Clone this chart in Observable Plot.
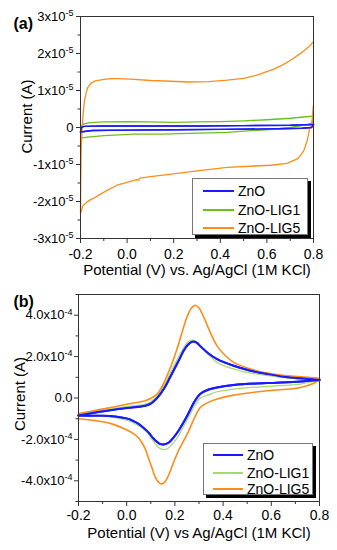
<!DOCTYPE html>
<html><head><meta charset="utf-8">
<script src="https://cdn.jsdelivr.net/npm/d3@7"></script>
<script src="https://cdn.jsdelivr.net/npm/@observablehq/plot@0.6"></script>
<style>
body{margin:0;background:#fff;}
#wrap{position:relative;width:337px;height:550px;overflow:hidden;font-family:"Liberation Sans",Arial,sans-serif;}
.panel{position:absolute;left:0;}
.legend{position:absolute;background:#fff;border:1px solid #777;box-shadow:3px 3px 0 #000;font-size:14px;color:#000;}
.legend .row{position:absolute;left:0;right:0;height:0;}
.legend .sw{position:absolute;}
.legend .lb{position:absolute;transform:translateY(-50%);white-space:nowrap;line-height:1;}
</style>
</head><body>
<div id="wrap"></div>
<script>
// ---------------- data ----------------
const seriesNames = ["ZnO", "ZnO-LIG1", "ZnO-LIG5"];
const xTitleA = "Potential (V) vs. Ag/AgCl (1M KCl)";
const xTitleB = "Potential (V) vs Ag/AgCl (1M KCl)";
const yTitle = "Current (A)";
const potTicks = [-0.2, 0, 0.2, 0.4, 0.6, 0.8];
const potMinor = [-0.1, 0.1, 0.3, 0.5, 0.7];
const yTicksA = [-3, -2, -1, 0, 1, 2, 3];        // x10^-5 A
const yMinorA = [-2.5, -1.5, -0.5, 0.5, 1.5, 2.5];
const yTicksB = [-4, -2, 0, 2, 4];               // x10^-4 A
const yMinorB = [-5, -3, -1, 1, 3, 5];

// Panel (a): [potential V, current in 1e-5 A]
const aZnOFwd = [[-0.2,-0.12],[-0.196,0.0],[-0.185,0.03],[-0.1,0.04],[0.1,0.04],[0.3,0.04],[0.5,0.05],[0.7,0.06],[0.8,0.08]];
const aZnORev = [[0.8,0.08],[0.792,0.0],[0.75,-0.02],[0.6,-0.04],[0.4,-0.05],[0.2,-0.06],[0.0,-0.07],[-0.15,-0.08],[-0.2,-0.12]];
const aLIG1Fwd = [[-0.2,-0.29],[-0.198,-0.05],[-0.195,0.05],[-0.185,0.1],[-0.16,0.13],[-0.1,0.15],[0.0,0.16],[0.1,0.15],[0.2,0.14],[0.3,0.15],[0.4,0.16],[0.5,0.18],[0.6,0.21],[0.7,0.25],[0.77,0.29],[0.8,0.31]];
const aLIG1Rev = [[0.8,0.31],[0.795,0.12],[0.77,0.07],[0.7,0.0],[0.64,-0.04],[0.5,-0.1],[0.43,-0.13],[0.3,-0.15],[0.15,-0.18],[0.03,-0.18],[-0.1,-0.22],[-0.17,-0.26],[-0.2,-0.29]];
const aLIG5Fwd = [[-0.2,-2.32],[-0.199,-1.5],[-0.197,-0.6],[-0.193,0.0],[-0.187,0.5],[-0.183,0.72],[-0.175,0.95],[-0.169,1.08],[-0.155,1.2],[-0.136,1.26],[-0.1,1.3],[-0.07,1.32],[-0.03,1.32],[0.03,1.3],[0.1,1.27],[0.19,1.25],[0.26,1.23],[0.35,1.24],[0.43,1.28],[0.5,1.33],[0.56,1.42],[0.63,1.58],[0.67,1.7],[0.71,1.85],[0.75,2.03],[0.78,2.18],[0.8,2.32]];
const aLIG5Rev = [[0.799,0.59],[0.796,0.3],[0.792,0.1],[0.784,0.0],[0.773,-0.36],[0.758,-0.63],[0.745,-0.75],[0.73,-0.85],[0.687,-0.97],[0.615,-1.02],[0.55,-1.04],[0.43,-1.08],[0.3,-1.17],[0.19,-1.26],[0.1,-1.33],[0.055,-1.37],[0.048,-1.43],[0.04,-1.41],[0.0,-1.48],[-0.043,-1.56],[-0.08,-1.68],[-0.114,-1.8],[-0.14,-1.9],[-0.157,-1.95],[-0.175,-2.03],[-0.19,-2.12],[-0.2,-2.32]];

// Panel (b): [potential V, current in 1e-4 A]
const bZnOFwd = [[-0.2,-0.85],[-0.13,-0.7],[-0.062,-0.58],[0.0,-0.48],[0.077,-0.37],[0.1,-0.27],[0.118,-0.1],[0.14,0.2],[0.16,0.55],[0.18,1.0],[0.201,1.47],[0.22,1.9],[0.236,2.28],[0.255,2.58],[0.274,2.73],[0.29,2.68],[0.306,2.5],[0.339,2.15],[0.375,1.88],[0.444,1.56],[0.514,1.32],[0.583,1.16],[0.65,1.03],[0.72,0.95],[0.8,0.87]];
const bZnORev = [[0.8,0.87],[0.721,0.8],[0.583,0.72],[0.444,0.63],[0.375,0.51],[0.34,0.41],[0.306,0.2],[0.28,-0.2],[0.256,-0.75],[0.235,-1.2],[0.215,-1.58],[0.195,-1.9],[0.175,-2.15],[0.153,-2.25],[0.135,-2.2],[0.12,-2.06],[0.105,-1.88],[0.09,-1.66],[0.07,-1.45],[0.049,-1.25],[0.025,-1.1],[0.007,-1.01],[-0.062,-0.88],[-0.13,-0.86],[-0.2,-0.85]];
const bLIG1Fwd = [[-0.2,-0.82],[-0.13,-0.62],[-0.062,-0.52],[0.0,-0.42],[0.077,-0.29],[0.1,-0.18],[0.118,0.0],[0.14,0.35],[0.16,0.72],[0.18,1.2],[0.2,1.65],[0.22,2.1],[0.24,2.5],[0.255,2.72],[0.272,2.8],[0.29,2.72],[0.306,2.5],[0.339,2.1],[0.375,1.72],[0.444,1.4],[0.514,1.2],[0.583,1.09],[0.652,0.98],[0.72,0.92],[0.8,0.87]];
const bLIG1Rev = [[0.8,0.87],[0.72,0.67],[0.583,0.56],[0.444,0.43],[0.375,0.3],[0.34,0.15],[0.306,0.0],[0.28,-0.42],[0.256,-0.95],[0.235,-1.4],[0.215,-1.82],[0.195,-2.15],[0.175,-2.4],[0.157,-2.49],[0.14,-2.45],[0.125,-2.3],[0.105,-2.0],[0.09,-1.75],[0.07,-1.5],[0.049,-1.33],[0.025,-1.18],[0.007,-1.1],[-0.062,-0.93],[-0.13,-0.88],[-0.2,-0.82]];
const bLIG5Fwd = [[-0.2,-0.75],[-0.131,-0.6],[-0.062,-0.45],[0.0,-0.3],[0.077,-0.13],[0.11,0.05],[0.132,0.27],[0.153,0.7],[0.173,1.23],[0.195,1.9],[0.215,2.6],[0.233,3.3],[0.249,3.88],[0.266,4.3],[0.284,4.48],[0.3,4.35],[0.32,3.9],[0.34,3.35],[0.375,2.52],[0.41,2.04],[0.444,1.72],[0.514,1.4],[0.583,1.2],[0.652,1.09],[0.721,1.03],[0.8,0.95]];
const bLIG5Rev = [[0.8,0.95],[0.79,0.8],[0.721,0.51],[0.583,0.35],[0.444,0.14],[0.375,-0.05],[0.34,-0.2],[0.306,-0.45],[0.29,-0.75],[0.27,-1.25],[0.256,-1.62],[0.235,-2.1],[0.215,-2.54],[0.2,-2.95],[0.187,-3.34],[0.175,-3.7],[0.166,-3.92],[0.156,-4.08],[0.146,-4.15],[0.135,-4.1],[0.125,-3.96],[0.114,-3.7],[0.104,-3.34],[0.09,-2.9],[0.077,-2.46],[0.06,-2.1],[0.049,-1.92],[0.025,-1.7],[0.007,-1.58],[-0.062,-1.25],[-0.131,-1.09],[-0.2,-1.0]];

// ---------------- styles ----------------
const colorsA = {"ZnO": "#1a1aff", "ZnO-LIG1": "#6cc01c", "ZnO-LIG5": "#ff8c1a"};
const colorsB = {"ZnO": "#1a1aff", "ZnO-LIG1": "#a6d86e", "ZnO-LIG5": "#ff8c1a"};
const widthsA = {"ZnO": 1.4, "ZnO-LIG1": 1.3, "ZnO-LIG5": 1.3};
const widthsB = {"ZnO": 2, "ZnO-LIG1": 1.2, "ZnO-LIG5": 1.6};

function table(list, unit) {
  const rows = [];
  list.forEach(([name, branch, arr]) => arr.forEach(([v, i], k) =>
    rows.push({name, key: name + branch, V: v, I: i * unit, k})));
  return rows;
}
const rowsA = table([
  ["ZnO","f",aZnOFwd],["ZnO","r",aZnORev],
  ["ZnO-LIG1","f",aLIG1Fwd],["ZnO-LIG1","r",aLIG1Rev],
  ["ZnO-LIG5","f",aLIG5Fwd],["ZnO-LIG5","r",aLIG5Rev]], 1e-5);
const rowsB = table([
  ["ZnO","f",bZnOFwd],["ZnO","r",bZnORev],
  ["ZnO-LIG1","f",bLIG1Fwd],["ZnO-LIG1","r",bLIG1Rev],
  ["ZnO-LIG5","f",bLIG5Fwd],["ZnO-LIG5","r",bLIG5Rev]], 1e-4);

const FONT = "Liberation Sans, Arial, Helvetica, sans-serif";
const fmtX = d => d.toFixed(1);
const fmtYA = d => { const k = Math.round(d / 1e-5); return k === 0 ? "0" : k + "x10|-5"; };
const fmtYB = d => { const k = Math.round(d / 1e-4); return k === 0 ? "0.0" : k.toFixed(1) + "x10|-4"; };

function supify(svg) {
  svg.querySelectorAll("text").forEach(t => {
    const s = t.textContent;
    if (s.includes("|")) {
      const [base, exp] = s.split("|");
      t.textContent = base;
      const ts = document.createElementNS("http://www.w3.org/2000/svg", "tspan");
      ts.setAttribute("dy", "-0.5em");
      ts.setAttribute("font-size", "9");
      ts.textContent = exp;
      t.appendChild(ts);
    }
  });
}

function panel(o) {
  const svg = Plot.plot({
    width: 337, height: o.height,
    marginLeft: o.ml, marginRight: o.mr, marginTop: o.mt, marginBottom: o.mb,
    style: {fontFamily: FONT, fontSize: "14px", color: "#000", background: "#fff", overflow: "visible"},
    x: {domain: [-0.2, 0.8], label: null},
    y: {domain: o.ydom, label: null},
    marks: [
      Plot.line(o.rows, {x: "V", y: "I", z: "key", stroke: d => o.colors[d.name],
        strokeWidth: d => o.widths[d.name], curve: o.curve}),
      Plot.line(o.rows.filter(d => d.name === "ZnO"), {x: "V", y: "I", z: "key", stroke: o.colors["ZnO"],
        strokeWidth: o.widths["ZnO"], curve: o.curve}),
      Plot.frame({stroke: "#333", strokeWidth: 1}),
      Plot.axisX({ticks: potTicks, tickFormat: fmtX, tickSize: 5, tickPadding: o.xpad, fontSize: 14, stroke: "#333", label: null}),
      Plot.axisX({ticks: potMinor, tickFormat: () => "", tickSize: 3, stroke: "#333", label: null}),
      Plot.axisY({ticks: o.yt, tickFormat: o.fmtY, tickSize: 4, tickPadding: o.ypad, fontSize: 13, stroke: "#333", label: null}),
      Plot.axisY({ticks: o.ym, tickFormat: () => "", tickSize: 2.5, stroke: "#333", label: null}),
      Plot.text([o.xTitle], {frameAnchor: "bottom", lineAnchor: "middle", textAnchor: "middle", dy: o.xtdy, text: d => d, fontSize: 15}),
      Plot.text([yTitle], {frameAnchor: "left", rotate: -90, textAnchor: "middle", lineAnchor: "middle", dx: o.ytdx, dy: o.ytdy, text: d => d, fontSize: 15}),
      Plot.text([o.tag], {frameAnchor: "top-left", textAnchor: "start", lineAnchor: "middle", dx: o.tagdx, dy: o.tagdy, text: d => d, fontSize: 16, fontWeight: "bold"})
    ]
  });
  supify(svg);
  svg.classList.add("panel");
  svg.style.top = o.top + "px";
  return svg;
}

const wrap = document.getElementById("wrap");
wrap.appendChild(panel({
  rows: rowsA, colors: colorsA, widths: widthsA, curve: "linear",
  height: 282, ml: 80, mr: 24, mt: 16, mb: 44, top: 0,
  ydom: [-3e-5, 3e-5], yt: yTicksA.map(k => k * 1e-5), ym: yMinorA.map(k => k * 1e-5), fmtY: fmtYA,
  xpad: 6, ypad: 3, xTitle: xTitleA, xtdy: 32, ytdx: -53, ytdy: -11,
  tag: "(a)", tagdx: -67, tagdy: 7
}));
wrap.appendChild(panel({
  rows: rowsB, colors: colorsB, widths: widthsB, curve: "catmull-rom",
  height: 268, ml: 78, mr: 18, mt: 12, mb: 49, top: 282,
  ydom: [-5e-4, 5e-4], yt: yTicksB.map(k => k * 1e-4), ym: yMinorB.map(k => k * 1e-4), fmtY: fmtYB,
  xpad: 4, ypad: 2, xTitle: xTitleB, xtdy: 32, ytdx: -58, ytdy: -4,
  tag: "(b)", tagdx: -65, tagdy: 7
}));

function legend(box, colors, widths) {
  const d = document.createElement("div");
  d.className = "legend";
  Object.assign(d.style, {left: box.x + "px", top: box.y + "px", width: box.w + "px", height: box.h + "px"});
  seriesNames.forEach((n, i) => {
    const r = document.createElement("div");
    r.className = "row"; r.style.top = box.rows[i] + "px";
    const sw = document.createElement("div");
    sw.className = "sw";
    Object.assign(sw.style, {left: box.l0 + "px", width: (box.l1 - box.l0) + "px",
      top: (-widths[n] / 2) + "px", height: widths[n] + "px", background: colors[n]});
    const lb = document.createElement("div");
    lb.className = "lb"; lb.style.left = box.tx + "px"; lb.textContent = n;
    r.appendChild(sw); r.appendChild(lb); d.appendChild(r);
  });
  wrap.appendChild(d);
}
legend({x: 192, y: 178, w: 114, h: 55, rows: [12, 31, 49], l0: 10, l1: 41, tx: 45}, colorsA, widthsA);
legend({x: 203, y: 443, w: 108, h: 50, rows: [11, 29, 45], l0: 9, l1: 39, tx: 43}, colorsB, widthsB);
</script>
</body></html>
